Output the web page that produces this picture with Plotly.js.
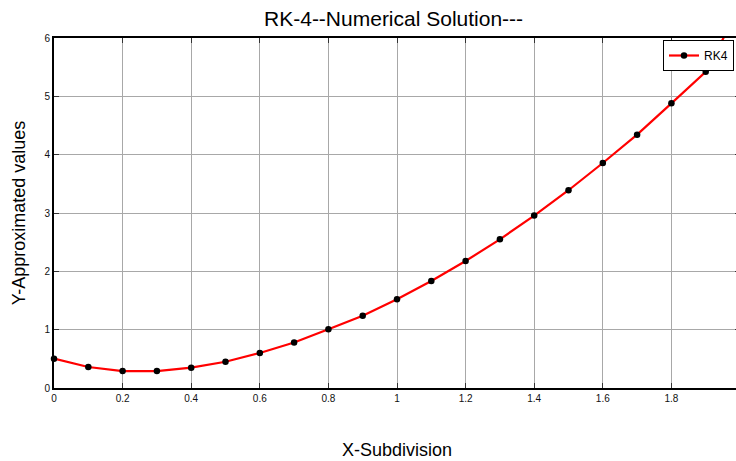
<!DOCTYPE html>
<html>
<head>
<meta charset="utf-8">
<script src="https://cdn.plot.ly/plotly-3.0.1.min.js"></script>
<style>
html, body { margin: 0; padding: 0; background: #fff; overflow: hidden; width: 736px; height: 461px; }
#chart { width: 760px; height: 461px; }
</style>
</head>
<body>
<div id="chart"></div>
<script>
// Data
const xValues = [0, 0.1, 0.2, 0.3, 0.4, 0.5, 0.6, 0.7, 0.8, 0.9, 1.0, 1.1, 1.2, 1.3, 1.4, 1.5, 1.6, 1.7, 1.8, 1.9, 2.0];
const yValues = [0.503, 0.36, 0.291, 0.291, 0.349, 0.45, 0.6, 0.78, 1.006, 1.24, 1.52, 1.834, 2.177, 2.549, 2.956, 3.39, 3.857, 4.343, 4.88, 5.42, 6.54];
const seriesName = "RK4";
const xTickVals = [0, 0.2, 0.4, 0.6, 0.8, 1, 1.2, 1.4, 1.6, 1.8];
const xTickText = ["0", "0.2", "0.4", "0.6", "0.8", "1", "1.2", "1.4", "1.6", "1.8"];
const yTickVals = [0, 1, 2, 3, 4, 5, 6];
const titleText = "RK-4--Numerical Solution---";
const xTitle = "X-Subdivision";
const yTitle = "Y-Approximated values";

const font = "Liberation Sans, Arial, sans-serif";

const trace = {
  x: xValues,
  y: yValues,
  name: seriesName,
  type: "scatter",
  mode: "lines+markers",
  line: { color: "#ff0000", width: 2.2 },
  marker: { color: "#000000", size: 6.5, symbol: "circle" },
  cliponaxis: false,
  showlegend: true
};

const axisCommon = {
  showline: true,
  linecolor: "#000000",
  linewidth: 2,
  mirror: "allticks",
  ticks: "inside",
  ticklen: 5,
  tickwidth: 1,
  tickcolor: "#333333",
  showgrid: true,
  gridcolor: "#a8a8a8",
  gridwidth: 1,
  zeroline: false,
  tickfont: { family: font, size: 10, color: "#111111" },
  automargin: false,
  fixedrange: true
};

const layout = {
  width: 760,
  height: 461,
  margin: { l: 54, r: 20, t: 38, b: 73, pad: 0 },
  paper_bgcolor: "#ffffff",
  plot_bgcolor: "#ffffff",
  font: { family: font, color: "#000000" },
  title: {
    text: titleText,
    font: { family: font, size: 21, color: "#000000" },
    xref: "paper", x: 0.495, xanchor: "center",
    yref: "container", y: 1 - 19 / 461, yanchor: "middle"
  },
  xaxis: Object.assign({}, axisCommon, {
    range: [0, 2],
    tickmode: "array",
    tickvals: xTickVals,
    ticktext: xTickText,
    title: { text: xTitle, font: { family: font, size: 18, color: "#000000" }, standoff: 40 }
  }),
  yaxis: Object.assign({}, axisCommon, {
    range: [0, 6],
    tickmode: "array",
    tickvals: yTickVals,
    title: { text: yTitle, font: { family: font, size: 18, color: "#000000" }, standoff: 14 }
  }),
  legend: {
    x: (734 - 54) / 686, xanchor: "right",
    y: (388 - 40) / 350, yanchor: "top",
    bgcolor: "#ffffff",
    bordercolor: "#000000",
    borderwidth: 1,
    font: { family: font, size: 12, color: "#000000" },
    itemwidth: 30,
    tracegroupgap: 0
  },
  showlegend: true
};

Plotly.newPlot("chart", [trace], layout, { displayModeBar: false, staticPlot: true });
</script>
</body>
</html>
